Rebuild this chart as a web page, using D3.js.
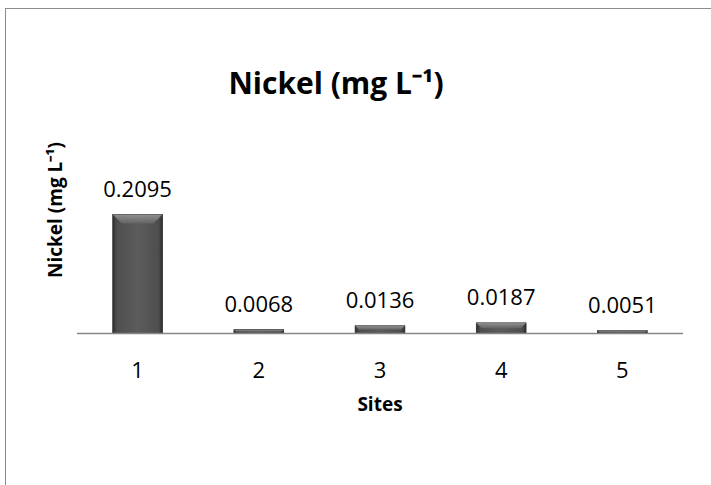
<!DOCTYPE html>
<html>
<head>
<meta charset="utf-8">
<script src="https://cdn.jsdelivr.net/npm/d3@7"></script>
<style>
  body { margin: 0; background: #fff; }
  text { font-family: "Open Sans", "Liberation Sans", sans-serif; fill: #000; }
</style>
</head>
<body>
<div id="chart"></div>
<script>
// Nickel concentration per site
const sites = ["1", "2", "3", "4", "5"];
const nickel = [0.2095, 0.0068, 0.0136, 0.0187, 0.0051];
const valueLabels = ["0.2095", "0.0068", "0.0136", "0.0187", "0.0051"];

const W = 711, H = 485;

const svg = d3.select("#chart").append("svg")
    .attr("width", W)
    .attr("height", H);

// chart area frame (only top/left visible in the crop)
svg.append("rect")
    .attr("x", 5.5).attr("y", 8.5)
    .attr("width", W + 20).attr("height", H + 20)
    .attr("fill", "#fff")
    .attr("stroke", "#8c8c8c")
    .attr("stroke-width", 1);

// gradients for the bevelled bars
const defs = svg.append("defs");
const body = defs.append("linearGradient").attr("id", "barBody")
    .attr("x1", 0).attr("x2", 1).attr("y1", 0).attr("y2", 0);
body.append("stop").attr("offset", "0%").attr("stop-color", "#2e2e2e");
body.append("stop").attr("offset", "8%").attr("stop-color", "#4e4e4e");
body.append("stop").attr("offset", "50%").attr("stop-color", "#5c5c5c");
body.append("stop").attr("offset", "92%").attr("stop-color", "#4e4e4e");
body.append("stop").attr("offset", "100%").attr("stop-color", "#2e2e2e");

const bevel = defs.append("linearGradient").attr("id", "barBevel")
    .attr("x1", 0).attr("x2", 0).attr("y1", 0).attr("y2", 1);
bevel.append("stop").attr("offset", "0%").attr("stop-color", "#9a9a9a");
bevel.append("stop").attr("offset", "100%").attr("stop-color", "#666");

const x = d3.scaleBand()
    .domain(sites)
    .range([77, 683])
    .paddingInner(0.59)
    .paddingOuter(0.295);

const y = d3.scaleLinear()
    .domain([0, 0.25])
    .range([333.5, 191.5]);

// bars
const bars = svg.append("g").selectAll("g")
    .data(nickel)
    .enter().append("g");

bars.append("rect")
    .attr("x", (d, i) => x(sites[i]))
    .attr("y", d => y(d))
    .attr("width", x.bandwidth())
    .attr("height", d => y(0) - y(d))
    .attr("fill", "url(#barBody)")
    .attr("stroke", "#2a2a2a")
    .attr("stroke-width", 0.8);

// top bevel
bars.append("path")
    .attr("d", (d, i) => {
        const x0 = x(sites[i]), x1 = x0 + x.bandwidth();
        const t = y(d), b = Math.min(9, (y(0) - y(d)) / 2);
        return `M${x0},${t}L${x1},${t}L${x1 - b},${t + b}L${x0 + b},${t + b}Z`;
    })
    .attr("fill", "url(#barBevel)")
    .attr("opacity", 0.85);

// axis line
svg.append("line")
    .attr("x1", 77).attr("x2", 683)
    .attr("y1", y(0)).attr("y2", y(0))
    .attr("stroke", "#878787")
    .attr("stroke-width", 1.5);

// value labels
svg.append("g").selectAll("text")
    .data(nickel)
    .enter().append("text")
    .attr("x", (d, i) => x(sites[i]) + x.bandwidth() / 2)
    .attr("y", d => y(d) - 18)
    .attr("text-anchor", "middle")
    .style("font-size", "22px")
    .text((d, i) => valueLabels[i]);

// tick labels
svg.append("g").selectAll("text")
    .data(sites)
    .enter().append("text")
    .attr("x", d => x(d) + x.bandwidth() / 2)
    .attr("y", 378)
    .attr("text-anchor", "middle")
    .style("font-size", "22px")
    .text(d => d);

// title
svg.append("text")
    .attr("x", 336)
    .attr("y", 94)
    .attr("text-anchor", "middle")
    .style("font-size", "30px")
    .style("font-weight", "bold")
    .text("Nickel (mg L⁻¹)");

// axis titles
svg.append("text")
    .attr("x", 380)
    .attr("y", 411)
    .attr("text-anchor", "middle")
    .style("font-size", "19px")
    .style("font-weight", "bold")
    .text("Sites");

svg.append("text")
    .attr("transform", "translate(62,210) rotate(-90)")
    .attr("text-anchor", "middle")
    .style("font-size", "19px")
    .style("font-weight", "bold")
    .text("Nickel (mg L⁻¹)");
</script>
</body>
</html>
